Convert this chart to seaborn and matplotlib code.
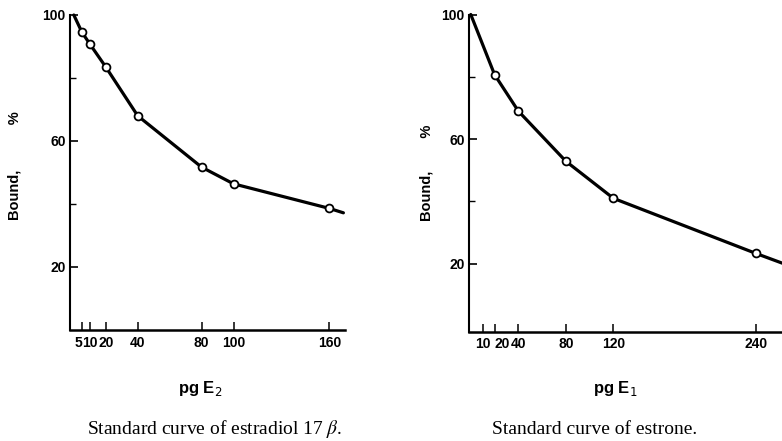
import matplotlib
matplotlib.use('Agg')
import matplotlib.pyplot as plt
import seaborn as sns
import pandas as pd
import numpy as np

# estradiol 17 beta standard curve (left panel)
e2_dose = [5, 10, 20, 40, 80, 100, 160]
e2_bound = [94.6, 90.8, 83.5, 68.0, 51.7, 46.4, 38.6]
e2_start = (0, 100)
e2_end = (168.8, 37.2)
e2_ticks = [5, 10, 20, 40, 80, 100, 160]

# estrone standard curve (right panel)
e1_dose = [20, 40, 80, 120, 240]
e1_bound = [80.7, 69.0, 52.9, 41.0, 23.3]
e1_start = (0, 100)
e1_end = (262, 20.2)
e1_ticks = [10, 20, 40, 80, 120, 240]

y_major = [20, 60, 100]
y_minor = [40, 80]

sns.set_style('ticks')
plt.rcParams['font.family'] = ['Liberation Sans', 'DejaVu Sans']
for key in ['text.color', 'axes.labelcolor', 'xtick.color', 'ytick.color',
            'xtick.labelcolor', 'ytick.labelcolor']:
    plt.rcParams[key] = 'black'

W, H = 782, 441
fig = plt.figure(figsize=(W / 100, H / 100), dpi=100)
ax1 = fig.add_axes([70 / W, (H - 330) / H, 275 / W, 315 / H])
ax2 = fig.add_axes([469 / W, (H - 331.7) / H, 313 / W, 317.2 / H])


def draw_panel(ax, dose, bound, start, end, ticks, xlim, ylim):
    line = pd.DataFrame({'dose': [start[0]] + dose + [end[0]],
                         'bound': [start[1]] + bound + [end[1]]})
    pts = pd.DataFrame({'dose': dose, 'bound': bound})
    sns.lineplot(data=line, x='dose', y='bound', ax=ax, color='black',
                 lw=2.3, estimator=None, clip_on=False)
    sns.scatterplot(data=pts, x='dose', y='bound', ax=ax, s=32,
                    facecolor='white', edgecolor='black', linewidth=1.3,
                    zorder=3, clip_on=False)
    ax.set_xlim(*xlim)
    ax.set_ylim(*ylim)
    ax.set_xticks(ticks)
    ax.set_xticklabels([str(t) for t in ticks], fontweight='bold')
    ax.set_yticks(y_major)
    ax.set_yticklabels([str(t) for t in y_major], fontweight='bold')
    ax.set_yticks(y_minor, minor=True)
    ax.tick_params(axis='both', which='both', direction='in', color='black',
                   labelcolor='black', labelsize=10)
    ax.tick_params(axis='x', length=6, width=1.1, pad=4)
    ax.tick_params(axis='y', which='major', length=6, width=1.2, pad=3)
    ax.tick_params(axis='y', which='minor', length=4, width=1.0)
    sns.despine(ax=ax)
    ax.spines['left'].set_linewidth(1.5)
    ax.spines['bottom'].set_linewidth(1.8)
    ax.spines['left'].set_color('black')
    ax.spines['bottom'].set_color('black')


draw_panel(ax1, e2_dose, e2_bound, e2_start, e2_end, e2_ticks,
           (-2.4, 169.8), (0, 100))
draw_panel(ax2, e1_dose, e1_bound, e1_start, e1_end, e1_ticks,
           (-1.5, 261.8), (-1.8, 100))

# crowded small-dose labels, as in the original
ax1.get_xticklabels()[0].set_ha('right')
ax2.get_xticklabels()[1].set_ha('left')

ax1.set_ylabel('Bound,' + ' ' * 11 + '%', fontsize=10.5, fontweight='bold')
ax2.set_ylabel('Bound,' + ' ' * 8 + '%', fontsize=10.5, fontweight='bold')
ax1.yaxis.set_label_coords(-0.175, 0.522)
ax2.yaxis.set_label_coords(-0.115, 0.5)

ax1.set_xlabel(r'pg E$_2$', fontsize=12, fontweight='bold',
               math_fontfamily='dejavusans')
ax2.set_xlabel(r'pg E$_1$', fontsize=12, fontweight='bold',
               math_fontfamily='dejavusans')
ax1.xaxis.set_label_coords(0.473, -0.157)
ax2.xaxis.set_label_coords(0.466, -0.150)

fig.text(215 / W, 1 - 434 / H, r'Standard curve of estradiol 17 $\beta$.',
         ha='center', va='baseline', family='Liberation Serif',
         fontweight='normal', fontsize=14, math_fontfamily='stix')
fig.text(595 / W, 1 - 434 / H, 'Standard curve of estrone.',
         ha='center', va='baseline', family='Liberation Serif',
         fontweight='normal', fontsize=14)

fig.savefig('out.png', dpi=100)
